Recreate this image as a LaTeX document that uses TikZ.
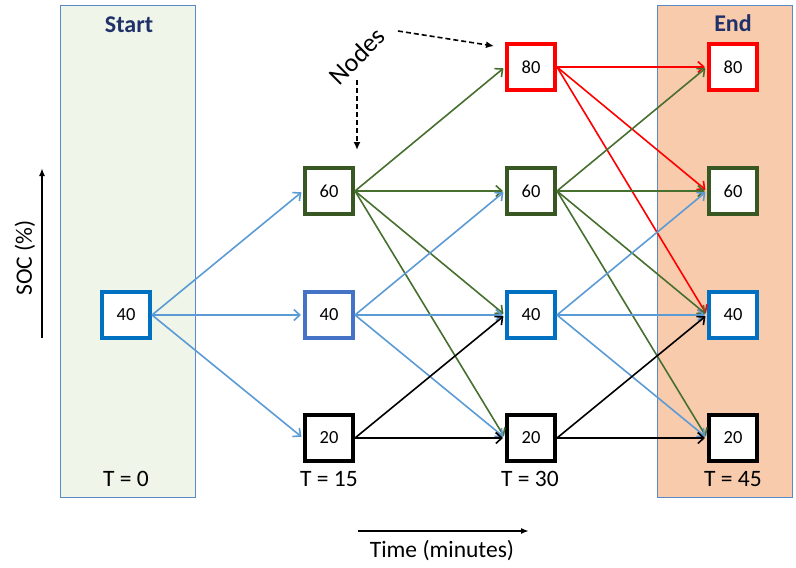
\documentclass[tikz,border=0pt]{standalone}
\usepackage{fontspec}
\setmainfont{Carlito}
\usetikzlibrary{arrows.meta}
\definecolor{startbg}{HTML}{EFF5E9}
\definecolor{endbg}{HTML}{F8CBAD}
\definecolor{panelblue}{HTML}{5A8AC6}
\definecolor{titlenavy}{HTML}{1F3168}
\definecolor{socred}{HTML}{FF0000}
\definecolor{socgreen}{HTML}{385723}
\definecolor{edgegreen}{HTML}{47702E}
\definecolor{socblue}{HTML}{0070C0}
\definecolor{midblue}{HTML}{4472C4}
\definecolor{edgeblue}{HTML}{5B9BD5}

\tikzset{
  socbox/.style={rectangle, draw=#1, line width=4pt, fill=white,
      minimum width=48pt, minimum height=46pt, inner sep=0pt,
      font=\fontsize{18.5}{21}\selectfont},
  panel/.style={draw=panelblue, line width=1pt, fill=#1},
  trans/.style={draw=#1, line width=1.6pt, shorten >=2pt,
      -{Straight Barb[length=6pt,width=11pt]}},
  tlabel/.style={font=\fontsize{23.5}{27}\selectfont},
  paneltitle/.style={font=\fontsize{24}{28}\selectfont\bfseries, text=titlenavy},
}

\begin{document}
\begin{tikzpicture}[x=1pt, y=-1pt]
\useasboundingbox (0,0) rectangle (796,568);

% start and end columns
\draw[panel=startbg] (60,5) rectangle (195,497);
\draw[panel=endbg] (657,5) rectangle (792,497);
\node[paneltitle] (starttitle) at (129,25) {Start};
\node[paneltitle] (endtitle) at (733,23) {End};

% SOC states per time step
\node[socbox=socblue] (s40) at (126,315) {40};

\node[socbox=socgreen] (a60) at (329,191) {60};
\node[socbox=midblue] (a40) at (329,315) {40};
\node[socbox=black] (a20) at (329,438) {20};

\node[socbox=socred] (b80) at (531,67) {80};
\node[socbox=socgreen] (b60) at (531,191) {60};
\node[socbox=socblue] (b40) at (531,315) {40};
\node[socbox=black] (b20) at (531,438) {20};

\node[socbox=socred] (e80) at (733,67) {80};
\node[socbox=socgreen] (e60) at (733,191) {60};
\node[socbox=socblue] (e40) at (733,315) {40};
\node[socbox=black] (e20) at (733,438) {20};

\node[tlabel] (t0) at (126,479) {T = 0};
\node[tlabel] (t15) at (329,479) {T = 15};
\node[tlabel] (t30) at (530,479) {T = 30};
\node[tlabel] (t45) at (733,479) {T = 45};

% transitions
\foreach \to in {a60,a40,a20}
  \draw[trans=edgeblue] (s40.east) -- (\to.west);
\foreach \to in {b80,b60,b40,b20}
  \draw[trans=edgegreen] (a60.east) -- (\to.west);
\foreach \to in {b60,b40,b20}
  \draw[trans=edgeblue] (a40.east) -- (\to.west);
\foreach \to in {b40,b20}
  \draw[trans=black] (a20.east) -- (\to.west);
\foreach \to in {e80,e60,e40}
  \draw[trans=socred] (b80.east) -- (\to.west);
\foreach \to in {e80,e60,e40,e20}
  \draw[trans=edgegreen] (b60.east) -- (\to.west);
\foreach \to in {e60,e40,e20}
  \draw[trans=edgeblue] (b40.east) -- (\to.west);
\foreach \to in {e40,e20}
  \draw[trans=black] (b20.east) -- (\to.west);

% annotation
\node[rotate=45, font=\fontsize{26}{30}\selectfont] (nodeslbl) at (357,56) {Nodes};
\coordinate (hintA) at (398,31);
\coordinate (hintAend) at (494,46);
\coordinate (hintB) at (357,80);
\coordinate (hintBend) at (357,150);
\draw[line width=1.6pt, dash pattern=on 5pt off 3pt, -{Latex[length=8pt,width=7pt]}] (hintA) -- (hintAend);
\draw[line width=1.6pt, dash pattern=on 5pt off 3pt, -{Latex[length=8pt,width=7pt]}] (hintB) -- (hintBend);

% axes
\coordinate (socfrom) at (42,338);
\coordinate (socto) at (42,168);
\draw[line width=1.6pt, -{Latex[length=8pt,width=6pt]}] (socfrom) -- (socto);
\node[tlabel, rotate=90] (soclbl) at (25,258) {SOC (\%)};
\coordinate (timefrom) at (358,531);
\coordinate (timeto) at (529,531);
\draw[line width=1.6pt, -{Latex[length=8pt,width=6pt]}] (timefrom) -- (timeto);
\node[tlabel] (timelbl) at (442,551) {Time (minutes)};
\end{tikzpicture}
\end{document}
